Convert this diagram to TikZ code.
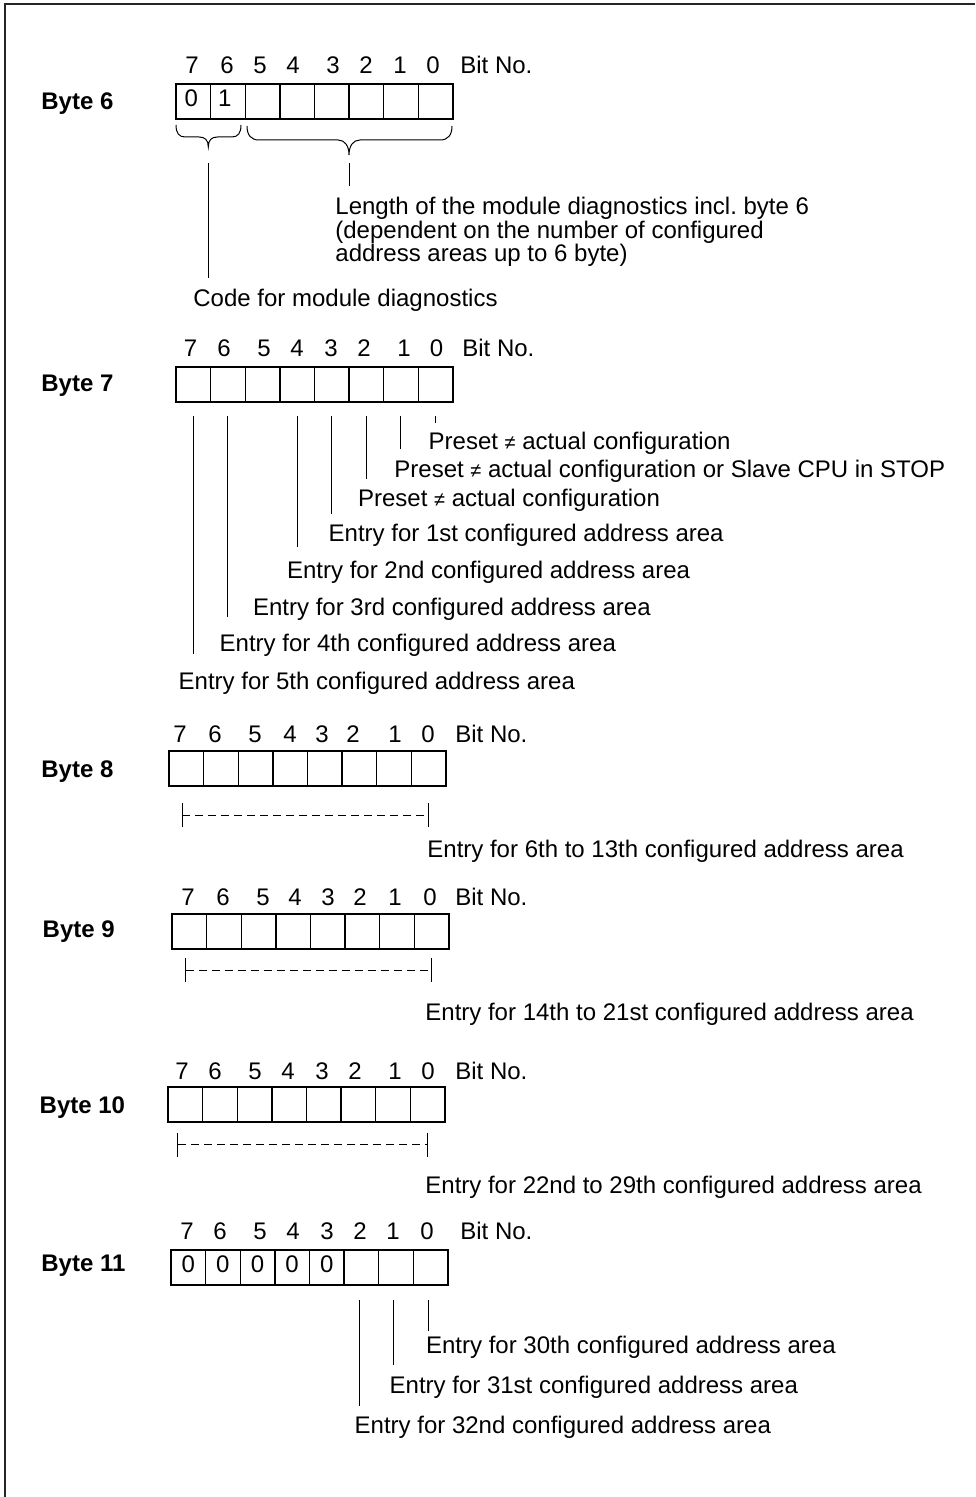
\documentclass[tikz,border=0pt]{standalone}
\usepackage{fontspec}
\setmainfont{Liberation Sans}
\usetikzlibrary{arrows.meta}
\frenchspacing

\tikzset{
  frame/.style={line width=1pt, black!85},
  bytename/.style={anchor=base west, inner sep=0pt, font=\fontsize{12}{14}\selectfont\bfseries},
  bitno/.style={anchor=base, inner sep=0pt},
  bitval/.style={anchor=base, inner sep=0pt},
  note/.style={anchor=base west, inner sep=0pt},
  bitcell/.style={draw, line width=0.7pt, minimum width=17.3pt, minimum height=17.5pt, inner sep=0pt},
  lead/.style={line width=0.5pt},
  spanline/.style={line width=0.5pt, dash pattern=on 4pt off 2.5pt, {Bar[width=12pt]}-{Bar[width=12pt]}},
}
\newcommand{\neqsign}{{\fontsize{10}{10}\selectfont ≠}}

\begin{document}
\begin{tikzpicture}[x=0.5pt, y=-0.5pt, font=\fontsize{12}{14}\selectfont]
  \useasboundingbox (0,0) rectangle (975,1497);
  \draw[frame] (975,4) -- (5,4) -- (5,1497);

  % Byte 6
  \node[bytename] (b6) at (41,110) {Byte 6};
  \foreach \x [count=\i] in {192,227,260,293,333,366,400,433}
    {\pgfmathtruncatemacro\nr{8-\i}\node[bitno] (b6n\nr) at (\x,74) {\nr};}
  \node[note] (b6bit) at (460,74) {Bit No.};
  \foreach \bit in {0,...,7}
    \node[bitcell] (b6c\bit) at ({176+(7.5-\bit)*34.6},101.5) {};
  \node[bitval] (b6v7) at ([xshift=-1pt,yshift=-2.75pt]b6c7.center) {0};
  \node[bitval] (b6v6) at ([xshift=-1.5pt,yshift=-2.75pt]b6c6.center) {1};

  \draw[lead] (176,125) .. controls (176,133) and (179,137) .. (185,137) -- (199,137)
    .. controls (205,137) and (208.3,140) .. (208.3,147)
    .. controls (208.3,140) and (211.5,137) .. (217.5,137) -- (232,137)
    .. controls (238,137) and (241,133) .. (241,125);
  \coordinate (codetip) at (208.3,147);
  \draw[lead] (247,126) .. controls (247,135) and (251,140) .. (259,140) -- (338,140)
    .. controls (345,140) and (349,146) .. (349,155)
    .. controls (349,146) and (353,140) .. (360,140) -- (440,140)
    .. controls (448,140) and (452,135) .. (452,126);
  \coordinate (lentip) at (349,155);

  \node[note, anchor=north west, align=left, font=\fontsize{12}{11.8}\selectfont] (len) at (335,197)
    {Length of the module diagnostics incl. byte 6\\(dependent on the number of configured\\address areas up to 6 byte)};
  \node[note] (code) at (193,307) {Code for module diagnostics};
  \draw[lead] ([yshift=-4pt]lentip) -- ([yshift=5.5pt]lentip |- len.north);
  \draw[lead] ([yshift=-8pt]codetip) -- ([yshift=14.5pt]codetip |- code.base);

  % Byte 7
  \node[bytename] (b7) at (41,391.7) {Byte 7};
  \foreach \x [count=\i] in {190.5,224,264,297,331,364,404,436.5}
    {\pgfmathtruncatemacro\nr{8-\i}\node[bitno] (b7n\nr) at (\x,356.7) {\nr};}
  \node[note] (b7bit) at (462,356.7) {Bit No.};
  \foreach \bit in {0,...,7}
    \node[bitcell] (b7c\bit) at ({176+(7.5-\bit)*34.6},384.5) {};

  \node[note] (p1) at (428.3,449.3) {Preset \neqsign\ actual configuration};
  \node[note] (p2) at (394,477.3) {Preset \neqsign\ actual configuration or Slave CPU in STOP};
  \node[note] (p3) at (357.7,506.7) {Preset \neqsign\ actual configuration};
  \node[note] (e1) at (328.3,541.7) {Entry for 1st configured address area};
  \node[note] (e2) at (286.7,578.3) {Entry for 2nd configured address area};
  \node[note] (e3) at (252.7,615.7) {Entry for 3rd configured address area};
  \node[note] (e4) at (219.3,651.7) {Entry for 4th configured address area};
  \node[note] (e5) at (178.3,689.3) {Entry for 5th configured address area};
  \foreach \bit/\lbl/\gap in {0/p1/13.2, 1/p2/14.2, 2/p3/13.9, 3/e1/13.9, 4/e2/15.8, 6/e4/17.4, 7/e5/17.7}
    \draw[lead] ([yshift=-6.5pt]b7c\bit.south) -- ([yshift=\gap pt]b7c\bit.south |- \lbl.base);

  % Byte 8
  \node[bytename] (b8) at (41,777) {Byte 8};
  \foreach \x [count=\i] in {180,215,255,290,322,353,395,428}
    {\pgfmathtruncatemacro\nr{8-\i}\node[bitno] (b8n\nr) at (\x,742) {\nr};}
  \node[note] (b8bit) at (455,742) {Bit No.};
  \foreach \bit in {0,...,7}
    \node[bitcell] (b8c\bit) at ({169+(7.5-\bit)*34.6},768.5) {};
  \node[note] (r8) at (427,857.5) {Entry for 6th to 13th configured address area};

  % Byte 9
  \node[bytename] (b9) at (42.3,937) {Byte 9};
  \foreach \x [count=\i] in {188,223,263,295,328,360,395,430}
    {\pgfmathtruncatemacro\nr{8-\i}\node[bitno] (b9n\nr) at (\x,905) {\nr};}
  \node[note] (b9bit) at (455,905) {Bit No.};
  \foreach \bit in {0,...,7}
    \node[bitcell] (b9c\bit) at ({172+(7.5-\bit)*34.6},931.5) {};
  \node[note] (r9) at (425,1020) {Entry for 14th to 21st configured address area};

  % Byte 10
  \node[bytename] (b10) at (39.3,1113) {Byte 10};
  \foreach \x [count=\i] in {182,215,255,288,322,355,395,428}
    {\pgfmathtruncatemacro\nr{8-\i}\node[bitno] (b10n\nr) at (\x,1079) {\nr};}
  \node[note] (b10bit) at (455,1079) {Bit No.};
  \foreach \bit in {0,...,7}
    \node[bitcell] (b10c\bit) at ({168+(7.5-\bit)*34.6},1104.5) {};
  \node[note] (r10) at (425,1193.3) {Entry for 22nd to 29th configured address area};

  % dashed spans of bytes 8 to 10
  \foreach \nr/\dy/\dx in {8/14.2/-2.4, 9/10.2/-2.2, 10/11/-4}
    \draw[spanline] ([xshift=\dx pt,yshift=-\dy pt]b\nr c7.south) -- ([yshift=-\dy pt]b\nr c0.south);

  % Byte 11
  \node[bytename] (b11) at (41,1271) {Byte 11};
  \foreach \x [count=\i] in {187,220,260,293,327,360,393,427}
    {\pgfmathtruncatemacro\nr{8-\i}\node[bitno] (b11n\nr) at (\x,1239) {\nr};}
  \node[note] (b11bit) at (460,1239) {Bit No.};
  \foreach \bit in {0,...,7}
    \node[bitcell] (b11c\bit) at ({171+(7.5-\bit)*34.6},1267.5) {};
  \foreach \bit in {3,...,7}
    \node[bitval] (b11v\bit) at ([yshift=-2.5pt]b11c\bit.center) {0};

  \node[note] (e30) at (425.7,1353.3) {Entry for 30th configured address area};
  \node[note] (e31) at (389.3,1393.3) {Entry for 31st configured address area};
  \node[note] (e32) at (354.3,1433.3) {Entry for 32nd configured address area};
  \foreach \bit/\lbl/\gap in {0/e30/11.2, 1/e31/14.2, 2/e32/13.8}
    \draw[lead] ([xshift=-1pt,yshift=-7pt]b11c\bit.south) -- ([xshift=-1pt,yshift=\gap pt]b11c\bit.south |- \lbl.base);
\end{tikzpicture}
\end{document}
